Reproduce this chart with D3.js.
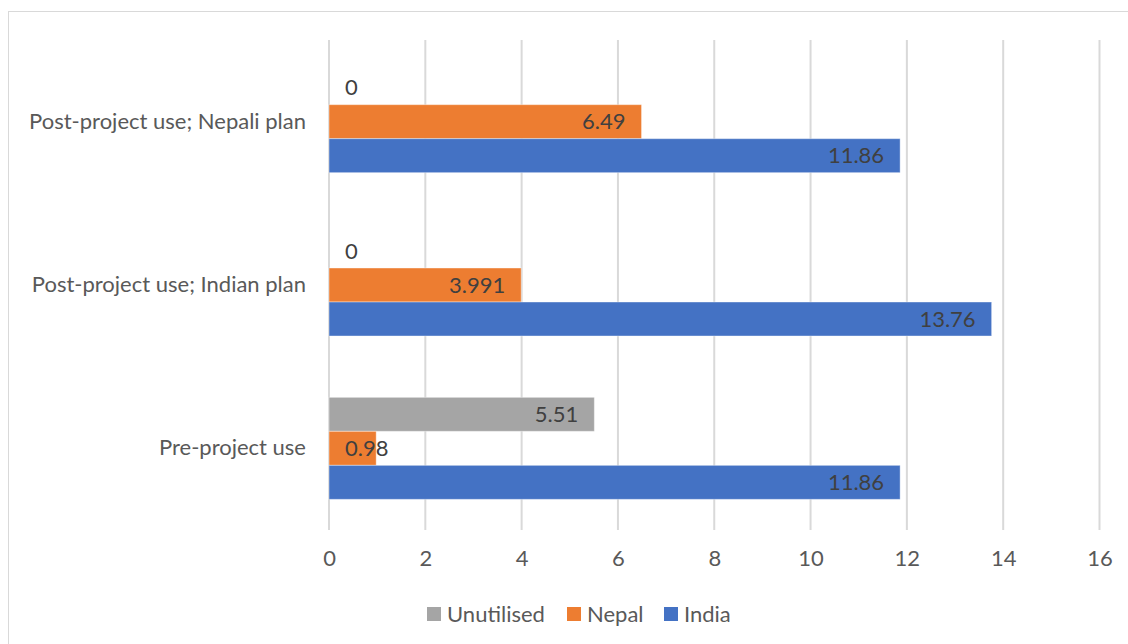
<!DOCTYPE html>
<html><head><meta charset="utf-8">
<script src="https://cdn.jsdelivr.net/npm/d3@7"></script>
<style>body{margin:0;background:#fff}svg{display:block}text{font-family:Lato,"Open Sans",sans-serif}</style>
</head><body><svg id="c" width="1128" height="644"></svg>
<script>
const categories = ["Post-project use; Nepali plan", "Post-project use; Indian plan", "Pre-project use"];
const seriesNames = ["Unutilised", "Nepal", "India"];
const unutilised = [0, 0, 5.51];
const nepal = [6.49, 3.991, 0.98];
const india = [11.86, 13.76, 11.86];
const xTicks = [0, 2, 4, 6, 8, 10, 12, 14, 16];
const colors = ["#A5A5A5", "#ED7D31", "#4472C4"];

(function(){
const FS = 22;
const svg = d3.select("#c");
svg.append("rect").attr("x", 8.5).attr("y", 11.5).attr("width", 1130).attr("height", 640)
  .attr("fill", "none").attr("stroke", "#d9d9d9");

const pL = 329, pR = 1099.5, pT = 40, pB = 530;
const x = d3.scaleLinear().domain([0, 16]).range([pL, pR]);
const y = d3.scaleBand().domain(categories).range([pT, pB]).padding(0);
const bw = y.bandwidth();
const sub = d3.scaleBand().domain(seriesNames).range([bw * 0.1877, bw * 0.8123]).padding(0);

svg.append("g").selectAll("line").data(xTicks).join("line")
  .attr("x1", d => x(d)).attr("x2", d => x(d)).attr("y1", pT).attr("y2", pB)
  .attr("stroke", "#d9d9d9").attr("stroke-width", 2);

const xAxis = d3.axisBottom(x).tickValues(xTicks).tickSize(0).tickPadding(0).tickFormat(d3.format("d"));
const xg = svg.append("g").attr("transform", `translate(0,${pB + 20})`).call(xAxis);
xg.select(".domain").remove();
xg.selectAll("text").attr("fill", "#595959").attr("font-size", FS).attr("dy", "0.71em");

const yAxis = d3.axisLeft(y).tickSize(0).tickPadding(23);
const yg = svg.append("g").attr("transform", `translate(${pL},0)`).call(yAxis);
yg.select(".domain").remove();
yg.selectAll("text").attr("fill", "#595959").attr("font-size", FS);
xg.attr("font-family", null).attr("font-size", null);
yg.attr("font-family", null).attr("font-size", null);

const seriesVals = [unutilised, nepal, india];
const data = [];
categories.forEach((c, i) => seriesNames.forEach((s, j) => data.push({c, s, j, v: seriesVals[j][i]})));

svg.append("g").selectAll("rect").data(data).join("rect")
  .attr("x", x(0)).attr("y", d => y(d.c) + sub(d.s))
  .attr("width", d => x(d.v) - x(0)).attr("height", sub.bandwidth())
  .attr("fill", d => colors[d.j])
  .attr("stroke", "#fff").attr("stroke-opacity", 0.4).attr("stroke-width", d => d.v > 0 ? 1 : 0);

const labels = svg.append("g").selectAll("text").data(data).join("text")
  .attr("font-size", FS).attr("fill", "#404040")
  .attr("y", d => y(d.c) + sub(d.s) + sub.bandwidth() / 2).attr("dy", "0.35em")
  .text(d => String(d.v));
labels.each(function(d) {
  const w = this.getComputedTextLength();
  const start = Math.max(x(d.v) - 16 - w, x(0) + 16);
  d3.select(this).attr("x", start);
});

const legX = [427, 567, 664];
const lg = svg.append("g");
seriesNames.forEach((s, j) => {
  lg.append("rect").attr("x", legX[j]).attr("y", 607).attr("width", 14).attr("height", 14).attr("fill", colors[j]);
  lg.append("text").attr("x", legX[j] + 20).attr("y", 614).attr("dy", "0.35em")
    .attr("font-size", FS).attr("fill", "#595959").text(s);
});
})();
</script></body></html>
